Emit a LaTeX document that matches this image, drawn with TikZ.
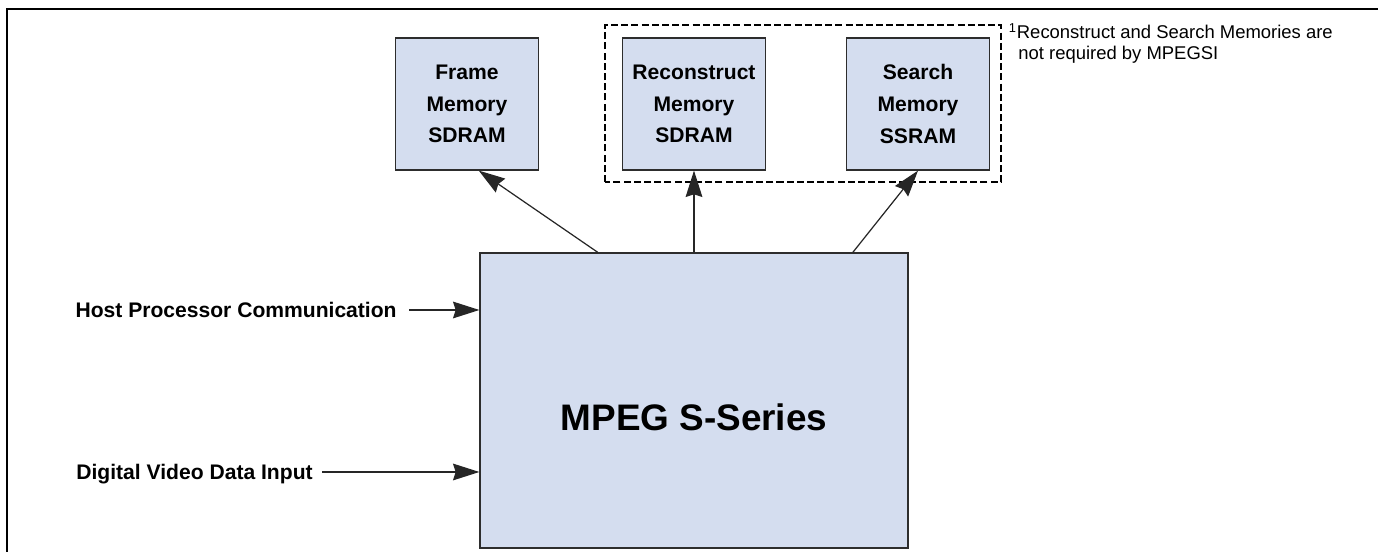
\documentclass[tikz,border=0pt]{standalone}
\usepackage{fontspec}
\setmainfont{Liberation Sans}
\usetikzlibrary{arrows.meta}

\definecolor{memfill}{RGB}{212,221,239}
\definecolor{boxline}{RGB}{45,45,45}

\tikzset{
    membox/.style={draw=boxline, line width=0.7pt, fill=memfill, minimum width=2.86cm, minimum height=2.64cm, inner sep=0pt, align=center, font=\bfseries\fontsize{12}{18}\selectfont},
    sigarrow/.style={-{Stealth[length=15pt,width=9.5pt,inset=1.5pt]}, line width=0.7pt, draw=black!85},
    siglabel/.style={inner sep=0pt, text height=8.6pt, text depth=0pt, font=\bfseries\fontsize{12}{14}\selectfont},
    notetext/.style={inner sep=0pt, font=\fontsize{10.5}{12}\selectfont},
}

\begin{document}
\begin{tikzpicture}
    \useasboundingbox (0,0) rectangle (27.56,11.04);
    % Draw the frame
    \draw[line width=1pt] (0.14,0) -- (0.14,10.86) -- (27.56,10.86);
    % Memories
    \node[membox] (frame) at (9.34,8.96) {Frame\\Memory\\SDRAM};
    \node[membox] (recon) at (13.88,8.96) {Reconstruct\\Memory\\SDRAM};
    \node[membox] (search) at (18.36,8.96) {Search\\Memory\\SSRAM};
    \draw[line width=1.5pt, dash pattern=on 4pt off 1.8pt] (12.1,7.4) rectangle (20.02,10.54);
    \node[notetext, anchor=base west] (note1) at (20.17,10.26) {\textsuperscript{1}Reconstruct and Search Memories are};
    \node[notetext, anchor=base west] (note2) at (20.36,9.84) {not required by MPEGSI};
    % Main chip
    \node[draw=boxline, line width=0.7pt, fill=memfill, minimum width=8.56cm, minimum height=5.9cm,
          label={[yshift=-0.33cm, font=\bfseries\fontsize{21}{25}\selectfont]center:MPEG S-Series}] (main) at (13.88,3.03) {};
    \draw[sigarrow] (main.123) -- (frame.-80);
    \draw[sigarrow] (main.north) -- (recon.south);
    \draw[sigarrow] (main.43) -- (search.south);
    % Inputs
    \node[siglabel, anchor=east] (host) at (7.94,4.84) {Host Processor Communication};
    \node[siglabel, anchor=east] (video) at (6.26,1.6) {Digital Video Data Input};
    \draw[sigarrow] ([xshift=0.24cm]host.east) -- (host.east -| main.west);
    \draw[sigarrow] ([xshift=0.18cm]video.east) -- (video.east -| main.west);
\end{tikzpicture}
\end{document}
